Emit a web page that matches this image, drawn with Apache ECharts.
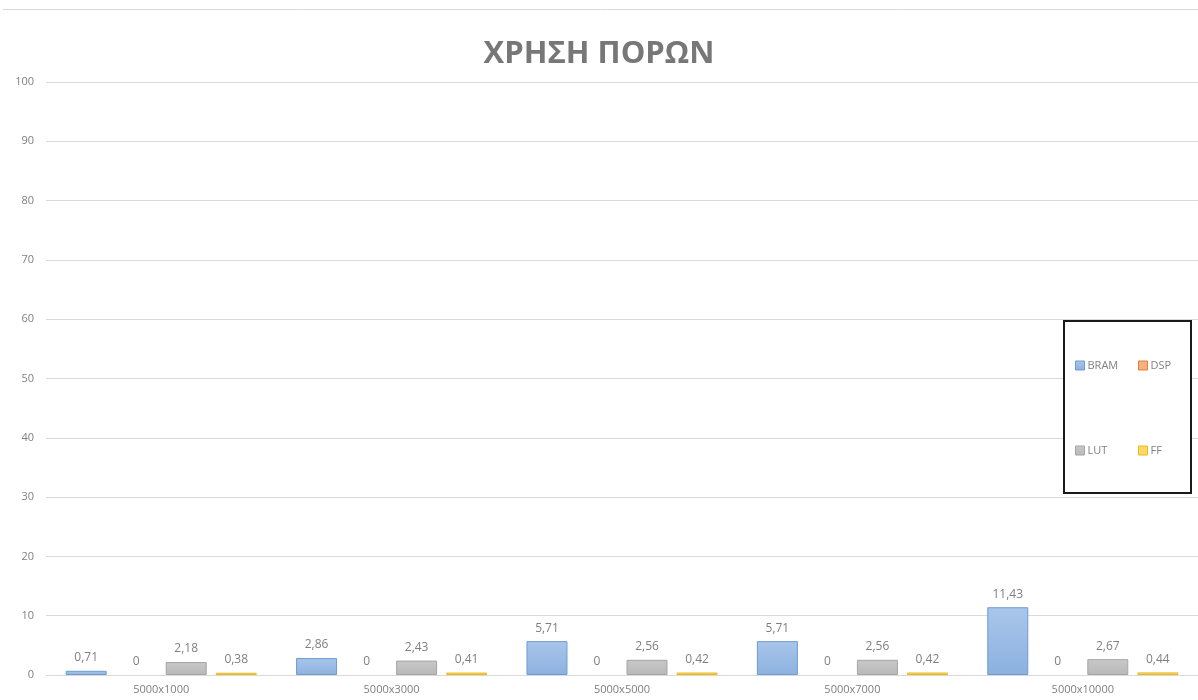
<!DOCTYPE html>
<html>
<head>
<meta charset="utf-8">
<script src="https://cdn.jsdelivr.net/npm/echarts@6/dist/echarts.min.js"></script>
<style>
  html, body { margin: 0; padding: 0; background: #ffffff; }
  #chart { width: 1198px; height: 700px; }
</style>
</head>
<body>
<div id="chart"></div>
<script>
// Resource usage per matrix size (percent)
const categories = ['5000x1000', '5000x3000', '5000x5000', '5000x7000', '5000x10000'];
const bram = [0.71, 2.86, 5.71, 5.71, 11.43];
const dsp  = [0, 0, 0, 0, 0];
const lut  = [2.18, 2.43, 2.56, 2.56, 2.67];
const ff   = [0.38, 0.41, 0.42, 0.42, 0.44];
const yTicks = { min: 0, max: 100, interval: 10 };

const labelStyle = {
  show: true,
  position: 'top',
  distance: 7,
  color: '#7f7f7f',
  fontSize: 12,
  fontFamily: 'Open Sans',
  formatter: p => String(p.value).replace('.', ',')
};

function grad(top, bottom) {
  return new echarts.graphic.LinearGradient(0, 0, 0, 1, [
    { offset: 0, color: top },
    { offset: 1, color: bottom }
  ]);
}

function barSeries(name, data, fill, border, bw) {
  return {
    name: name,
    type: 'bar',
    data: data,
    barWidth: 41,
    barGap: '22%',
    itemStyle: { color: fill, borderColor: border, borderWidth: bw },
    label: labelStyle
  };
}

// one legend entry, placed inside the framed legend box
function legendItem(name, left, top) {
  return {
    data: [name],
    left: left,
    top: top,
    padding: 0,
    itemWidth: 9,
    itemHeight: 9,
    itemGap: 0,
    icon: 'rect',
    z: 6,
    itemStyle: { borderWidth: 1 },
    textStyle: { color: '#7f7f7f', fontSize: 11, fontFamily: 'Open Sans', padding: [0, 0, 0, -2] }
  };
}

const chart = echarts.init(document.getElementById('chart'), null, { renderer: 'canvas' });

chart.setOption({
  backgroundColor: '#ffffff',
  animation: false,
  title: {
    text: 'ΧΡΗΣΗ ΠΟΡΩΝ',
    left: 'center',
    top: 34,
    textStyle: {
      fontFamily: 'Open Sans',
      fontWeight: 'bold',
      fontSize: 31,
      color: '#777777'
    }
  },
  graphic: [
    {
      type: 'line',
      z: 1,
      shape: { x1: 3, y1: 9.5, x2: 1198, y2: 9.5 },
      style: { stroke: '#d9d9d9', lineWidth: 1 }
    },
    {
      type: 'rect',
      z: 5,
      shape: { x: 1064, y: 321, width: 127, height: 172 },
      style: { fill: '#ffffff', stroke: '#1a1a1a', lineWidth: 2 }
    }
  ],
  grid: { left: 46, top: 82, width: 1157, bottom: 25, containLabel: false },
  legend: [
    legendItem('BRAM', 1075, 360),
    legendItem('DSP', 1138, 360),
    legendItem('LUT', 1075, 445),
    legendItem('FF', 1138, 445)
  ],
  xAxis: {
    type: 'category',
    data: categories,
    axisLine: { show: true, lineStyle: { color: '#d9d9d9' } },
    axisTick: { show: false },
    axisLabel: { color: '#7f7f7f', fontSize: 11, fontFamily: 'Open Sans', margin: 9 }
  },
  yAxis: {
    type: 'value',
    min: yTicks.min,
    max: yTicks.max,
    interval: yTicks.interval,
    axisLine: { show: false },
    axisTick: { show: false },
    splitLine: { lineStyle: { color: '#d9d9d9', width: 1 } },
    axisLabel: { color: '#7f7f7f', fontSize: 11, fontFamily: 'Open Sans', margin: 12 }
  },
  series: [
    barSeries('BRAM', bram, grad('#a9c6ea', '#8cb1e0'), '#6f9bd1', 1),
    barSeries('DSP', dsp, '#f4b183', '#ed7d31', 0),
    barSeries('LUT', lut, grad('#c8c8c8', '#b8b8b8'), '#a5a5a5', 1),
    barSeries('FF', ff, '#ffd966', '#e8b923', 1)
  ]
});
</script>
</body>
</html>
